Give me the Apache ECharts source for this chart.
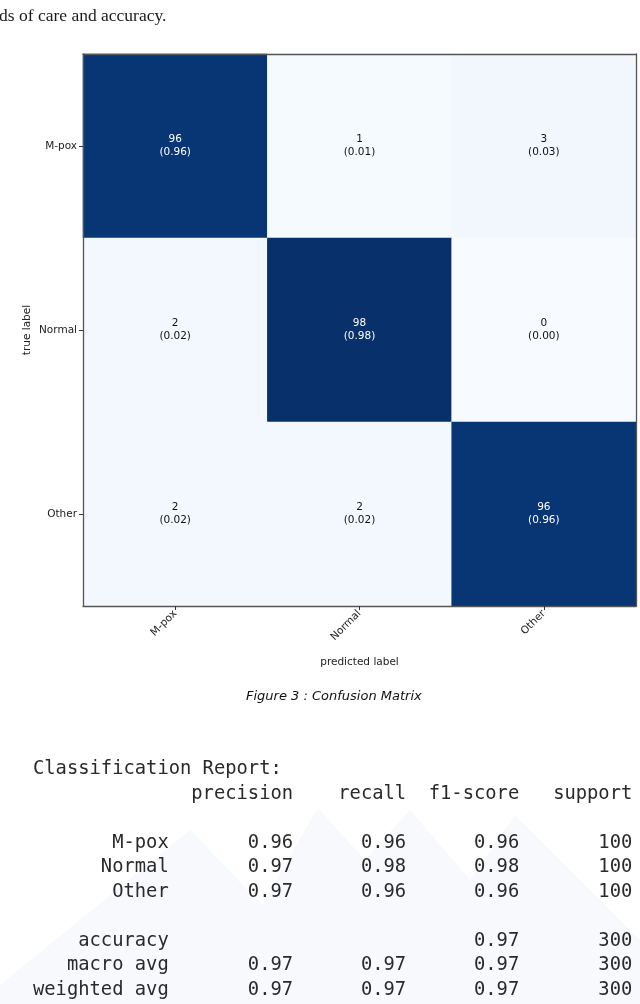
<!DOCTYPE html>
<html>
<head>
<meta charset="utf-8">
<script src="https://cdn.jsdelivr.net/npm/echarts@6/dist/echarts.min.js"></script>
<style>
  html, body { margin: 0; padding: 0; background: #fff; }
  #chart { width: 640px; height: 1004px; }
</style>
</head>
<body>
<div id="chart"></div>
<script>
// confusion matrix (rows = true label, cols = predicted label)
var classes = ['M-pox', 'Normal', 'Other'];
var rowMpox = [96, 1, 3];
var rowNormal = [2, 98, 0];
var rowOther = [2, 2, 96];

// classification report
var reportNames = ['M-pox', 'Normal', 'Other'];
var precision = [0.96, 0.97, 0.97];
var recall = [0.96, 0.98, 0.96];
var f1 = [0.96, 0.98, 0.96];
var support = [100, 100, 100];
var accuracy = 0.97, accSupport = 300;
var macroAvg = [0.97, 0.97, 0.97], weightedAvg = [0.97, 0.97, 0.97], avgSupport = 300;

var matrix = [rowMpox, rowNormal, rowOther];
var cells = [];
matrix.forEach(function(row, r){
	var total = row.reduce(function(a, b){ return a + b; }, 0);
	row.forEach(function(v, c){
		cells.push({
			value: [c, r, v],
			ratio: (v / total).toFixed(2),
			label: { color: v > 50 ? '#ffffff' : '#111111' }
		});
	});
});

// build the sklearn-style text block
function pad(s, n){ s = String(s); while (s.length < n) s = ' ' + s; return s; }
var W = 12;
var lines = ['Classification Report:'];
lines.push(pad('', W) + ' ' + pad('precision', 10) + pad('recall', 10) + pad('f1-score', 10) + pad('support', 10));
lines.push('');
reportNames.forEach(function(n, i){
	lines.push(pad(n, W) + ' ' + pad(precision[i].toFixed(2), 10) + pad(recall[i].toFixed(2), 10) + pad(f1[i].toFixed(2), 10) + pad(support[i], 10));
});
lines.push('');
lines.push(pad('accuracy', W) + ' ' + pad('', 10) + pad('', 10) + pad(accuracy.toFixed(2), 10) + pad(accSupport, 10));
lines.push(pad('macro avg', W) + ' ' + macroAvg.map(function(v){ return pad(v.toFixed(2), 10); }).join('') + pad(avgSupport, 10));
lines.push(pad('weighted avg', W) + ' ' + weightedAvg.map(function(v){ return pad(v.toFixed(2), 10); }).join('') + pad(avgSupport, 10));

var chart = echarts.init(document.getElementById('chart'));
var axisLine = { show: true, lineStyle: { color: '#555', width: 1.3 } };
var option = {
	backgroundColor: '#fff',
	animation: false,
	grid: { left: 83, top: 54, width: 553, height: 552 },
	xAxis: [{
		type: 'category',
		data: classes,
		position: 'bottom',
		z: 10,
		axisLine: axisLine,
		axisTick: { show: true, alignWithLabel: true, length: 4, lineStyle: { color: '#333' } },
		axisLabel: { rotate: 45, fontSize: 10.5, color: '#222', fontFamily: 'DejaVu Sans', margin: 6 },
		splitLine: { show: false },
		name: 'predicted label',
		nameLocation: 'middle',
		nameGap: 51,
		nameMoveOverlap: false,
		nameTextStyle: { fontSize: 10.5, color: '#222', fontFamily: 'DejaVu Sans' }
	}, {
		type: 'category',
		data: classes,
		position: 'top',
		z: 10,
		axisLine: axisLine,
		axisTick: { show: false },
		axisLabel: { show: false }
	}],
	yAxis: [{
		type: 'category',
		data: classes,
		inverse: true,
		position: 'left',
		z: 10,
		axisLine: axisLine,
		axisTick: { show: true, alignWithLabel: true, length: 4, lineStyle: { color: '#333' } },
		axisLabel: { fontSize: 10.5, color: '#222', fontFamily: 'DejaVu Sans', margin: 6 },
		splitLine: { show: false },
		name: 'true label',
		nameLocation: 'middle',
		nameRotate: 90,
		nameGap: 50,
		nameMoveOverlap: false,
		nameTextStyle: { fontSize: 10.5, color: '#222', fontFamily: 'DejaVu Sans' }
	}, {
		type: 'category',
		data: classes,
		inverse: true,
		position: 'right',
		z: 10,
		axisLine: axisLine,
		axisTick: { show: false },
		axisLabel: { show: false }
	}],
	visualMap: {
		show: false,
		min: 0,
		max: 98,
		dimension: 2,
		inRange: { color: ['#f7fbff', '#deebf7', '#c6dbef', '#9ecae1', '#6baed6', '#4292c6', '#2171b5', '#08519c', '#08306b'] }
	},
	series: [{
		type: 'heatmap',
		xAxisIndex: 0,
		yAxisIndex: 0,
		data: cells,
		z: 1,
		itemStyle: { borderWidth: 0 },
		label: {
			show: true,
			fontSize: 10.5,
			fontFamily: 'DejaVu Sans',
			lineHeight: 13,
			formatter: function(p){ return p.value[2] + '\n(' + p.data.ratio + ')'; }
		}
	}],
	graphic: [
		{
			type: 'polygon',
			silent: true,
			z: -10,
			shape: { points: [[0, 1004], [0, 985], [190, 830], [262, 905], [318, 808], [365, 860], [410, 810], [470, 880], [515, 815], [640, 940], [640, 1004]] },
			style: { fill: '#f7f9fd' }
		},
		{
			type: 'text', left: -1, top: 7,
			style: { text: 'ds of care and accuracy.', font: '17.5px "Liberation Serif", serif', fill: '#1a1a1a' }
		},
		{
			type: 'text', left: 246, top: 690,
			style: { text: 'Figure 3 : Confusion Matrix', font: 'italic 13px "DejaVu Sans", sans-serif', fill: '#111' }
		},
		{
			type: 'text', left: 33, top: 757,
			style: { text: lines.join('\n'), font: '18.8px "DejaVu Sans Mono", monospace', lineHeight: 24.5, fill: '#2a2a2a' }
		}
	]
};
chart.setOption(option);
</script>
</body>
</html>
